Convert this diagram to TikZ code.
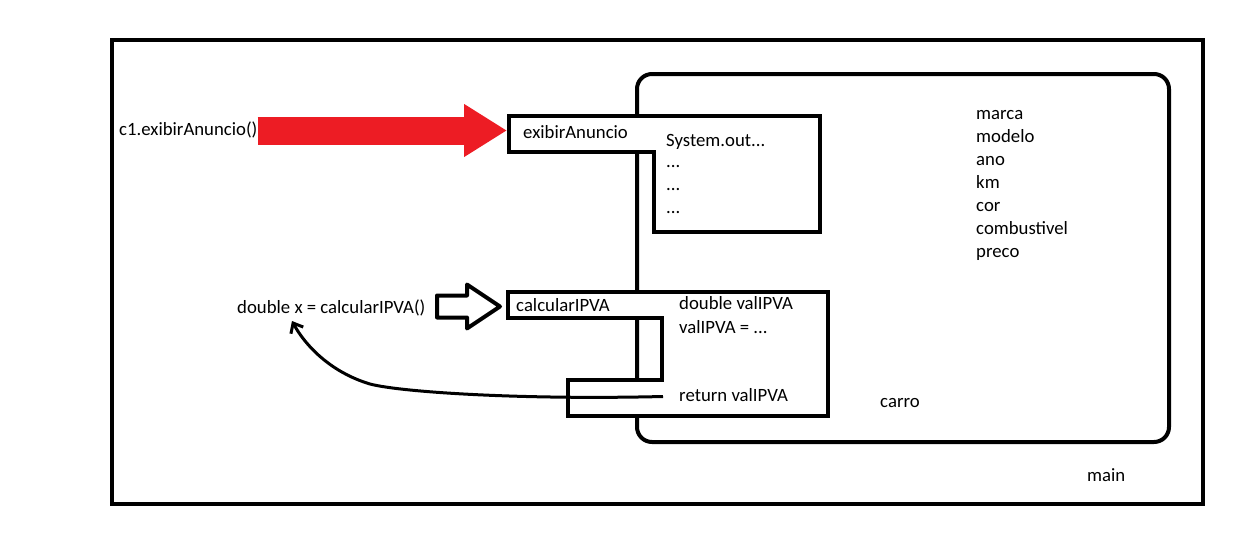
\documentclass[tikz,border=0pt]{standalone}
\usepackage{fontspec}
\setmainfont{Carlito}
\usetikzlibrary{arrows.meta}
\definecolor{paintred}{RGB}{237,28,36}

\begin{document}
\begin{tikzpicture}[
  x=0.03cm, y=-0.03cm,
  codetext/.style={anchor=base west, inner sep=0pt, text height=0.39cm,
                   text depth=0.12cm, font=\fontsize{16}{19}\selectfont},
  methodtag/.style={codetext, inner xsep=0.48cm},
  frame/.style={draw=black, line width=0.12cm},
  classbox/.style={draw=black, line width=0.12cm, rounded corners=0.45cm},
  methodbox/.style={draw=black, fill=white, line width=0.12cm},
  callarrow/.style={draw=paintred, line width=0.84cm,
                    -{Triangle[length=1.29cm 0 0, width=1.5cm 0 0]}},
  hollowarrow/.style={draw=black, fill=white, line width=0.12cm, line join=round},
  returnline/.style={draw=black, line width=0.09cm,
                     -{Straight Barb[length=0.25cm 0 0, width=0.42cm 0 0]}}
]
  \useasboundingbox (0,0) rectangle (1257,533);

  % main and carro
  \draw[frame] (112,40) rectangle (1203,504);
  \draw[classbox] (637,74) rectangle (1169,442);

  % methods
  \draw[methodbox] (509,116) -- (820,116) -- (820,232) -- (654,232)
    -- (654,152) -- (509,152) -- cycle;
  \draw[methodbox] (508,292) -- (828,292) -- (828,416) -- (568,416)
    -- (568,380) -- (662,380) -- (662,318) -- (508,318) -- cycle;

  \node[codetext] (callex) at (119,135) {c1.exibirAnuncio()};
  \node[codetext] (callcalc) at (237,313) {double x = calcularIPVA()};
  \coordinate (xvar) at (292,321);

  \node[methodtag] (exname) at (507,138) {exibirAnuncio};
  \node[codetext] (sysout) at (666,146) {System.out...};
  \foreach \i in {1,2,3} {
    \node[codetext] (dots\i) at (666, 144+23*\i) {...};
  }

  \node[methodtag] (calcname) at (500,311) {calcularIPVA};
  \node[codetext] (declval) at (679,309) {double valIPVA};
  \node[codetext] (setval) at (679,333) {valIPVA = ...};
  \node[methodtag] (retnode) at (663,401) {return valIPVA};

  \foreach \attr [count=\i] in {marca,modelo,ano,km,cor,combustivel,preco} {
    \node[codetext] (attr\i) at (976, 96+23*\i) {\attr};
  }
  \node[codetext] (carro) at (880,407) {carro};
  \node[codetext] (main) at (1087,481) {main};

  % calls
  \draw[callarrow] (callex.east) -- (callex.east -| exname.west);
  \draw[hollowarrow] (calcname.west) -- ++(-33,-22) -- ++(0,11) -- ++(-30,0)
    -- ++(0,22) -- ++(30,0) -- ++(0,11) -- cycle;
  \draw[returnline] (retnode.west) .. controls (520,400) and (400,392) .. (370,384)
    .. controls (330,372) and (305,345) .. (xvar);
\end{tikzpicture}
\end{document}
